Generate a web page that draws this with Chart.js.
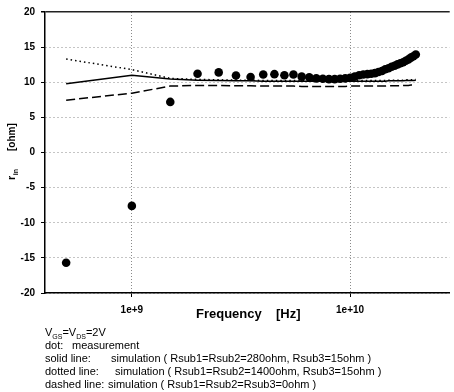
<!DOCTYPE html>
<html>
<head>
<meta charset="utf-8">
<script src="https://cdn.jsdelivr.net/npm/chart.js@4.4.1/dist/chart.umd.min.js"></script>
<style>
  html, body { margin: 0; padding: 0; background: #fff; }
  #wrap { width: 454px; height: 392px; position: relative; }
</style>
</head>
<body>
<div id="wrap"><canvas id="c" width="454" height="392"></canvas></div>
<script>
// ---- Data ----
const freqHz = [5e8, 1e9, 1.5e9, 2e9, 2.5e9, 3e9, 3.5e9, 4e9, 4.5e9, 5e9,
  5.5e9, 6e9, 6.5e9, 7e9, 7.5e9, 8e9, 8.5e9, 9e9, 9.5e9, 1e10,
  1.05e10, 1.1e10, 1.15e10, 1.2e10, 1.25e10, 1.3e10, 1.35e10, 1.4e10, 1.45e10, 1.5e10,
  1.55e10, 1.6e10, 1.65e10, 1.7e10, 1.75e10, 1.8e10, 1.85e10, 1.9e10, 1.95e10, 2e10];

const measured = [-15.7, -7.6, 7.2, 11.2, 11.4, 10.95, 10.75, 11.1, 11.15, 11.0,
  11.1, 10.8, 10.7, 10.55, 10.5, 10.45, 10.45, 10.5, 10.55, 10.65,
  10.8, 11.0, 11.1, 11.15, 11.2, 11.3, 11.45, 11.6, 11.85, 12.0,
  12.2, 12.35, 12.55, 12.7, 12.85, 13.05, 13.25, 13.5, 13.7, 13.95];

const simSolid = [9.8, 11.0, 10.45, 10.3, 10.25, 10.2, 10.2, 10.15, 10.15, 10.15,
  10.15, 10.15, 10.15, 10.15, 10.15, 10.15, 10.15, 10.15, 10.15, 10.15,
  10.15, 10.15, 10.15, 10.15, 10.15, 10.15, 10.15, 10.15, 10.15, 10.2,
  10.2, 10.2, 10.2, 10.2, 10.2, 10.25, 10.25, 10.25, 10.25, 10.3];

const simDotted = [13.3, 11.8, 10.55, 10.4, 10.35, 10.3, 10.3, 10.25, 10.25, 10.25,
  10.25, 10.25, 10.25, 10.25, 10.25, 10.25, 10.25, 10.25, 10.25, 10.25,
  10.25, 10.25, 10.25, 10.25, 10.25, 10.25, 10.25, 10.25, 10.25, 10.3,
  10.3, 10.3, 10.3, 10.3, 10.3, 10.35, 10.35, 10.35, 10.35, 10.4];

const simDashed = [7.45, 8.45, 9.45, 9.55, 9.55, 9.5, 9.5, 9.45, 9.45, 9.45,
  9.45, 9.4, 9.4, 9.4, 9.4, 9.4, 9.4, 9.4, 9.4, 9.45,
  9.45, 9.45, 9.45, 9.45, 9.45, 9.45, 9.45, 9.45, 9.45, 9.5,
  9.5, 9.5, 9.5, 9.5, 9.55, 9.55, 9.55, 9.6, 9.6, 9.6];

const xTickValues = [1e9, 1e10];
const xTickLabels = ['1e+9', '1e+10'];
const yMin = -20, yMax = 20, yStep = 5;

const xTitle = ['Frequency', '[Hz]'];
const yTitle = { main: 'r', sub: 'in', unit: '[ohm]' };
const notes = [
  { label: 'dot:', text: 'measurement' },
  { label: 'solid line:', text: 'simulation ( Rsub1=Rsub2=280ohm, Rsub3=15ohm )' },
  { label: 'dotted line:', text: 'simulation ( Rsub1=Rsub2=1400ohm, Rsub3=15ohm )' },
  { label: 'dashed line:', text: 'simulation ( Rsub1=Rsub2=Rsub3=0ohm )' }
];
const condition = [['V', ''], ['GS', 'sub'], ['=V', ''], ['DS', 'sub'], ['=2V', '']];

// ---- Build ----
const toXY = arr => freqHz.map((f, i) => ({ x: f, y: arr[i] }));
const FONT = 'Arial, "Liberation Sans", sans-serif';

const textPlugin = {
  id: 'texts',
  afterDraw(chart) {
    const ctx = chart.ctx;
    ctx.save();
    ctx.fillStyle = '#000';
    ctx.textBaseline = 'alphabetic';
    ctx.textAlign = 'left';
    // X title
    ctx.font = 'bold 13px ' + FONT;
    ctx.fillText(xTitle[0], 196, 318);
    ctx.fillText(xTitle[1], 276, 318);
    // Y title rotated
    ctx.save();
    ctx.translate(14.5, 180);
    ctx.rotate(-Math.PI / 2);
    ctx.font = 'bold 11px ' + FONT;
    ctx.fillText(yTitle.main, 0, 0);
    const rw = ctx.measureText(yTitle.main).width;
    ctx.font = 'bold 7px ' + FONT;
    ctx.fillText(yTitle.sub, rw + 0.5, 3);
    ctx.font = 'bold 10px ' + FONT;
    ctx.fillText(yTitle.unit, 29, 0);
    ctx.restore();
    // condition line with subscripts
    let x = 45;
    const base0 = 336;
    condition.forEach(([t, kind]) => {
      if (kind === 'sub') {
        ctx.font = '7px ' + FONT;
        ctx.fillText(t, x, base0 + 2.5);
      } else {
        ctx.font = '11px ' + FONT;
        ctx.fillText(t, x, base0);
      }
      x += ctx.measureText(t).width;
    });
    // notes
    ctx.font = '11px ' + FONT;
    const textX = [72, 111, 115, 108];
    notes.forEach((n, i) => {
      const b = 349 + i * 13;
      ctx.fillText(n.label, 45, b);
      ctx.fillText(n.text, textX[i], b);
    });
    ctx.restore();
  }
};

new Chart(document.getElementById('c'), {
  type: 'scatter',
  data: {
    datasets: [
      { label: 'measurement', data: toXY(measured), showLine: false,
        pointRadius: 4.3, pointHoverRadius: 4.3, backgroundColor: '#000', borderColor: '#000', borderWidth: 0, order: 0 },
      { label: 'solid', data: toXY(simSolid), showLine: true, pointRadius: 0,
        borderColor: '#000', borderWidth: 1.5, backgroundColor: '#000', order: 1 },
      { label: 'dotted', data: toXY(simDotted), showLine: true, pointRadius: 0,
        borderColor: '#000', borderWidth: 1.5, borderDash: [1.5, 3], backgroundColor: '#000', order: 2 },
      { label: 'dashed', data: toXY(simDashed), showLine: true, pointRadius: 0,
        borderColor: '#000', borderWidth: 1.5, borderDash: [9, 4], backgroundColor: '#000', order: 3 }
    ]
  },
  options: {
    responsive: false,
    animation: false,
    events: [],
    layout: { padding: { top: 10, right: 1, bottom: 79, left: 0 } },
    plugins: { legend: { display: false }, tooltip: { enabled: false }, title: { display: false } },
    scales: {
      x: {
        type: 'logarithmic',
        min: 4e8, max: 2.86e10,
        afterBuildTicks: s => { s.ticks = xTickValues.map(v => ({ value: v })); },
        afterFit: s => { s.height = 20; },
        ticks: {
          autoSkip: false, maxRotation: 0, minRotation: 0, padding: 7,
          color: '#000', font: { family: FONT, size: 10, weight: 'bold' },
          callback: v => { const i = xTickValues.indexOf(v); return i >= 0 ? xTickLabels[i] : ''; }
        },
        grid: { color: '#8a8a8a', lineWidth: 1, tickColor: '#000', tickLength: 4, drawTicks: true },
        border: { display: true, color: '#000', width: 1.5, dash: [1, 2] }
      },
      y: {
        min: yMin, max: yMax,
        afterFit: s => { s.width = 45; },
        ticks: { stepSize: yStep, padding: 6, color: '#000', font: { family: FONT, size: 10, weight: 'bold' } },
        grid: {
          color: c => (c.tick && c.tick.value === yMax) ? '#222' : '#8a8a8a',
          lineWidth: c => (c.tick && c.tick.value === yMax) ? 1.5 : 1,
          tickColor: '#000', tickLength: 4
        },
        border: { display: true, color: '#000', width: 1.5,
          dash: c => (c.tick && c.tick.value === yMax) ? [] : [1, 3] }
      }
    }
  },
  plugins: [textPlugin]
});
</script>
</body>
</html>
